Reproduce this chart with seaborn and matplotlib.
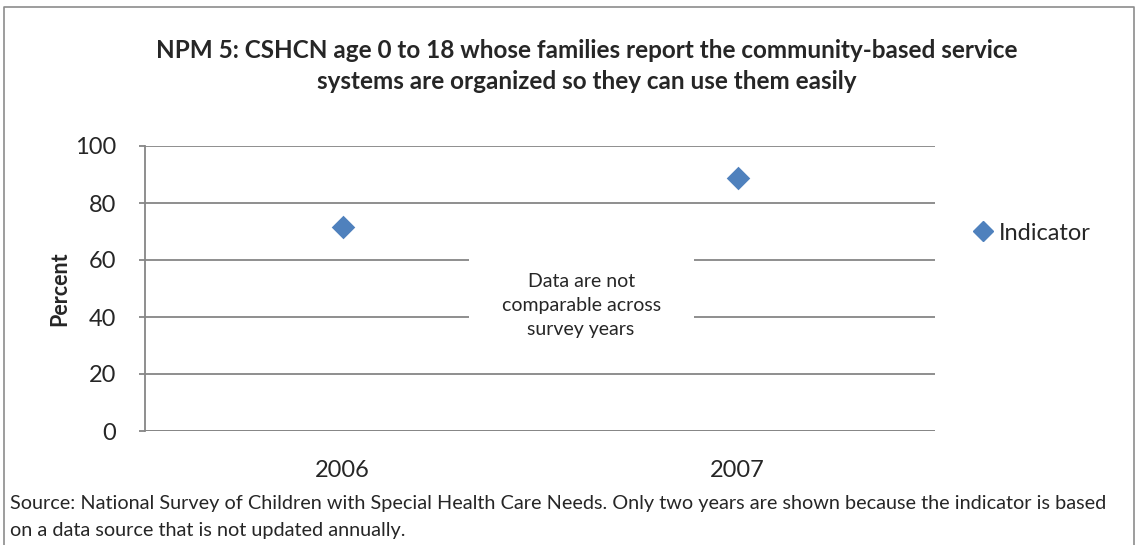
import matplotlib
matplotlib.use("Agg")
import matplotlib.pyplot as plt
import seaborn as sns
import pandas as pd
from matplotlib.lines import Line2D
from matplotlib.patches import Rectangle

# ── Data ─────────────────────────────────────────────────────────────────────
years = ["2006", "2007"]
indicator = [71.7, 88.8]
series_name = "Indicator"

title = ("NPM 5: CSHCN age 0 to 18 whose families report the community-based service\n"
         "systems are organized so they can use them easily")
note = "Data are not\ncomparable across\nsurvey years"
source = ("Source: National Survey of Children with Special Health Care Needs. Only two years are shown because the indicator is based\n"
          "on a data source that is not updated annually.")

df = pd.DataFrame({"year": years, "value": indicator})

# ── Style ────────────────────────────────────────────────────────────────────
sns.set_style("white")
plt.rcParams["font.family"] = ["Lato", "DejaVu Sans"]

blue = "#4F81BD"
grid = "#868686"

fig = plt.figure(figsize=(11.38, 5.45), dpi=100, facecolor="white")
ax = fig.add_axes([145 / 1138, 1 - 431 / 545, 790 / 1138, 285 / 545])

sns.stripplot(data=df, x="year", y="value", jitter=False, marker="D",
              size=12, color=blue, linewidth=0, ax=ax, zorder=5)

ax.set_ylim(0, 100)
ax.set_xlim(-0.5, 1.5)
ax.set_yticks(range(0, 101, 20))
ax.yaxis.grid(True, color=grid, linewidth=1.3)
ax.set_axisbelow(True)
for name, s in ax.spines.items():
    s.set_visible(name == "left")
ax.spines["left"].set_color(grid)
ax.spines["left"].set_linewidth(1.3)

ax.axhline(0, color=grid, linewidth=1.3, zorder=2)
ax.set_xticks([-0.5, 0.5, 1.5], minor=True)
ax.tick_params(axis="x", which="minor", length=5, width=1.3, color=grid, direction="out")
ax.tick_params(axis="x", which="major", length=0, pad=21, labelsize=17)
ax.tick_params(axis="y", length=4, width=1.3, color=grid, direction="out", pad=17, labelsize=17, left=True)

ax.set_xlabel("")
ax.set_ylabel("Percent", fontsize=15.5, fontweight="bold", labelpad=3)

# white box over the gridlines with the note
ax.add_patch(Rectangle((0.32, 30), 0.57, 38, facecolor="white", edgecolor="none", zorder=3))
ax.text(0.604, 44.2, note, ha="center", va="center", fontsize=14, linespacing=1.5, zorder=4)

fig.text(0.516, 1 - 66 / 545, title, ha="center", va="center", fontsize=17.5,
         fontweight="bold", linespacing=1.4)

handle = Line2D([], [], marker="D", linestyle="none", color=blue, markersize=10)
fig.legend([handle], [series_name], loc="center left", bbox_to_anchor=(958 / 1138, 1 - 233 / 545),
           frameon=False, fontsize=17, handletextpad=0.15, borderpad=0, handlelength=1.1)

fig.text(10 / 1138, 1 - 517 / 545, source, ha="left", va="center", fontsize=14.3,
         linespacing=1.65)

# outer chart border (top, left, right)
fig.add_artist(Line2D([4 / 1138, 4 / 1138, 1134 / 1138, 1134 / 1138],
                      [0, 1 - 7 / 545, 1 - 7 / 545, 0], color="#8c8c8c", linewidth=1.2,
                      transform=fig.transFigure))

fig.savefig("out.png", dpi=100, facecolor="white")
plt.close(fig)
